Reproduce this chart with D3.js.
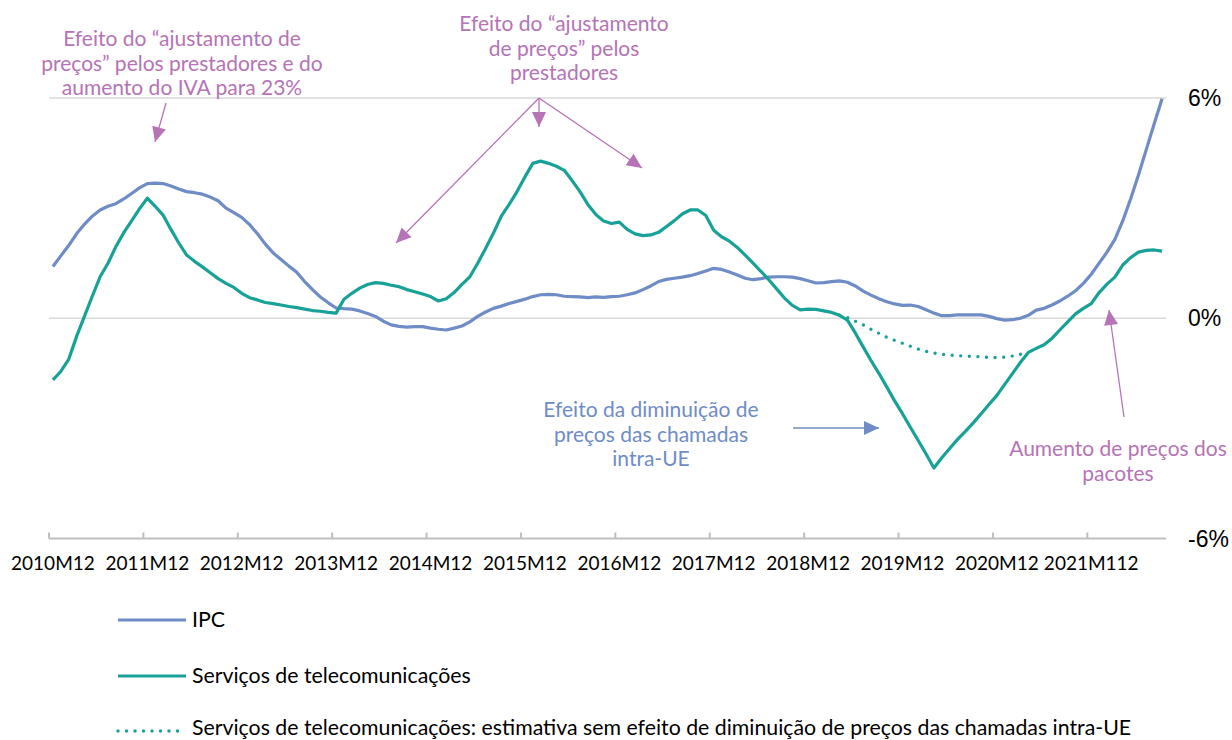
<!DOCTYPE html>
<html><head><meta charset="utf-8">
<script src="https://cdn.jsdelivr.net/npm/d3@7"></script>
<style>html,body{margin:0;padding:0;background:#fff;}svg{display:block;}</style>
</head><body>
<svg id="c" width="1232" height="740"></svg>
<script>
// ---- data ----
const startYear = 2010, startMonth = 12, nMonths = 142;
const months = [];
for (let i = 0; i < nMonths; i++) {
  const m = (startMonth - 1 + i) % 12 + 1;
  const yr = startYear + Math.floor((startMonth - 1 + i) / 12);
  months.push(yr + "M" + m);
}
const tickLabels = ["2010M12","2011M12","2012M12","2013M12","2014M12","2015M12","2016M12","2017M12","2018M12","2019M12","2020M12","2021M112"];
const yTicks = [6, 0, -6];

const ipc = [1.41,1.7,1.98,2.3,2.56,2.78,2.95,3.05,3.12,3.25,3.4,3.55,3.67,3.68,3.67,3.6,3.52,3.45,3.42,3.38,
  3.3,3.2,3.0,2.88,2.75,2.55,2.3,2.02,1.78,1.6,1.42,1.25,1.0,0.78,0.58,0.42,0.28,0.26,0.25,0.2,
  0.13,0.05,-0.08,-0.18,-0.22,-0.24,-0.23,-0.23,-0.27,-0.3,-0.32,-0.27,-0.21,-0.1,0.05,0.17,0.27,0.33,0.4,0.46,
  0.52,0.59,0.64,0.65,0.64,0.6,0.59,0.58,0.56,0.58,0.57,0.59,0.6,0.64,0.69,0.78,0.88,1.0,1.06,1.09,
  1.12,1.16,1.22,1.29,1.36,1.33,1.26,1.18,1.09,1.05,1.08,1.12,1.13,1.13,1.12,1.08,1.02,0.96,0.97,1.0,
  1.02,0.98,0.88,0.74,0.63,0.53,0.45,0.39,0.35,0.36,0.32,0.23,0.14,0.07,0.07,0.09,0.09,0.09,0.09,0.05,
  -0.01,-0.05,-0.04,0.0,0.08,0.22,0.27,0.36,0.47,0.6,0.75,0.95,1.2,1.5,1.8,2.15,2.65,3.25,3.9,4.6,
  5.3,5.98];

const telecom = [-1.68,-1.45,-1.12,-0.5,0.05,0.6,1.13,1.5,1.95,2.33,2.65,2.98,3.27,3.05,2.81,2.42,2.05,1.72,1.55,1.4,
  1.24,1.08,0.95,0.84,0.68,0.56,0.5,0.43,0.4,0.36,0.32,0.29,0.25,0.21,0.19,0.16,0.14,0.52,0.68,0.82,
  0.92,0.97,0.95,0.9,0.86,0.78,0.72,0.66,0.59,0.47,0.53,0.7,0.92,1.13,1.5,1.9,2.32,2.78,3.1,3.45,
  3.85,4.22,4.28,4.22,4.14,4.03,3.75,3.45,3.1,2.83,2.65,2.58,2.62,2.42,2.3,2.25,2.27,2.34,2.5,2.66,
  2.84,2.95,2.95,2.8,2.4,2.22,2.1,1.93,1.72,1.5,1.28,1.05,0.8,0.55,0.35,0.23,0.25,0.24,0.2,0.16,
  0.08,-0.05,-0.4,-0.78,-1.15,-1.5,-1.87,-2.25,-2.6,-2.97,-3.33,-3.7,-4.08,-3.8,-3.55,-3.3,-3.08,-2.85,-2.6,-2.35,
  -2.1,-1.8,-1.5,-1.2,-0.93,-0.82,-0.72,-0.55,-0.32,-0.1,0.12,0.27,0.4,0.7,0.93,1.12,1.45,1.65,1.8,1.85,
  1.86,1.83];

// estimate without intra-EU call price effect (starts at index 100)
const estimateStart = 100;
const estimate = [0.08,0.02,-0.08,-0.18,-0.3,-0.41,-0.52,-0.6,-0.68,-0.76,-0.84,-0.9,-0.95,-0.98,-1.0,-1.02,-1.03,-1.04,-1.05,-1.07,-1.07,-1.06,-1.03,-0.98,-0.93];

const legendLabels = ["IPC","Serviços de telecomunicações","Serviços de telecomunicações: estimativa sem efeito de diminuição de preços das chamadas intra-UE"];

// ---- styles ----
const C_IPC = "#6F8CC6", C_TEL = "#18A196", C_PURPLE = "#B673B6", C_BLUE = "#6F8CC6";
const FONT = "Lato, 'Open Sans', sans-serif";

const svg = d3.select("#c");
const x = d3.scaleBand().domain(months).range([49, 1166]).padding(0);
const y = d3.scaleLinear().domain([-6, 6]).range([538.5, 98]);
const cx = m => x(m) + x.bandwidth() / 2;

// gridlines
svg.append("g").selectAll("line").data([6, 0]).join("line")
  .attr("x1", 49).attr("x2", 1166)
  .attr("y1", d => y(d)).attr("y2", d => y(d))
  .attr("stroke", "#D9D9D9").attr("stroke-width", 1.5);

// x axis line + ticks
svg.append("line").attr("x1", 49).attr("x2", 1166).attr("y1", y(-6)).attr("y2", y(-6))
  .attr("stroke", "#BFBFBF").attr("stroke-width", 2);
const tickIdx = tickLabels.map((d, i) => i * 12);
svg.append("g").selectAll("line").data(tickIdx).join("line")
  .attr("x1", d => x(months[d])).attr("x2", d => x(months[d]))
  .attr("y1", y(-6)).attr("y2", y(-6) - 6)
  .attr("stroke", "#BFBFBF").attr("stroke-width", 2);
svg.append("g").selectAll("text").data(tickIdx).join("text")
  .attr("x", d => cx(months[d])).attr("y", 570)
  .attr("text-anchor", "middle")
  .attr("font-family", FONT).attr("font-size", 19).attr("fill", "#000")
  .text((d, i) => tickLabels[i]);

// y labels (right)
svg.append("g").selectAll("text").data(yTicks).join("text")
  .attr("x", 1188).attr("y", d => y(d) + 8)
  .attr("font-family", "'Liberation Sans', Arial, sans-serif").attr("font-size", 23).attr("fill", "#000")
  .text(d => d + "%");

// lines
const line = d3.line().x(d => cx(d.m)).y(d => y(d.v)).curve(d3.curveLinear);
svg.append("path").datum(ipc.map((v, i) => ({m: months[i], v})))
  .attr("d", line).attr("fill", "none").attr("stroke", C_IPC).attr("stroke-width", 3.2)
  .attr("stroke-linejoin", "round");
svg.append("path").datum(telecom.map((v, i) => ({m: months[i], v})))
  .attr("d", line).attr("fill", "none").attr("stroke", C_TEL).attr("stroke-width", 3.2)
  .attr("stroke-linejoin", "round");
svg.append("path").datum(estimate.map((v, i) => ({m: months[estimateStart + i], v})))
  .attr("d", line).attr("fill", "none").attr("stroke", C_TEL).attr("stroke-width", 3.4)
  .attr("stroke-linecap", "round").attr("stroke-dasharray", "0 8.6");

// arrow markers
const defs = svg.append("defs");
function marker(id, color) {
  defs.append("marker").attr("id", id).attr("markerUnits", "userSpaceOnUse")
    .attr("viewBox", "-1 -8 17 16").attr("refX", 15).attr("refY", 0)
    .attr("markerWidth", 17).attr("markerHeight", 16).attr("orient", "auto")
    .append("path").attr("d", "M0,-7 L15,0 L0,7 Z").attr("fill", color);
}
marker("ap", C_PURPLE); marker("ab", C_BLUE);

function arrow(x1, y1, x2, y2, color, id, w) {
  svg.append("line").attr("x1", x1).attr("y1", y1).attr("x2", x2).attr("y2", y2)
    .attr("stroke", color).attr("stroke-width", w).attr("marker-end", "url(#" + id + ")");
}
arrow(166, 103, 155, 142, C_PURPLE, "ap", 1.3);
arrow(539, 98, 539, 127, C_PURPLE, "ap", 1.3);
arrow(539, 98, 642, 168, C_PURPLE, "ap", 1.3);
arrow(539, 98, 396, 243, C_PURPLE, "ap", 1.3);
arrow(1124, 417, 1109, 310, C_PURPLE, "ap", 1.3);
arrow(793, 428, 879, 428, C_BLUE, "ab", 1.3);

function label(lines, xc, y0, dy, color) {
  const t = svg.append("text").attr("font-family", FONT).attr("font-size", 21)
    .attr("fill", color).attr("text-anchor", "middle");
  lines.forEach((s, i) => t.append("tspan").attr("x", xc).attr("y", y0 + i * dy).text(s));
}
label(["Efeito do “ajustamento de", "preços” pelos prestadores e do", "aumento do IVA para 23%"], 182, 46, 24.5, C_PURPLE);
label(["Efeito do “ajustamento", "de preços” pelos", "prestadores"], 564, 31, 24.5, C_PURPLE);
label(["Efeito da diminuição de", "preços das chamadas", "intra-UE"], 651, 417, 24.5, C_BLUE);
label(["Aumento de preços dos", "pacotes"], 1118, 456, 24.5, C_PURPLE);

// legend
const lg = svg.append("g");
const ly = [620, 676, 731];
const lty = [627, 683, 735];
[0, 1, 2].forEach(i => {
  const l = lg.append("line").attr("x1", 118).attr("x2", 186).attr("y1", ly[i]).attr("y2", ly[i])
    .attr("stroke", i === 0 ? C_IPC : C_TEL).attr("stroke-width", i === 2 ? 3.4 : 3.2);
  if (i === 2) l.attr("stroke-linecap", "round").attr("stroke-dasharray", "0 8.5");
  lg.append("text").attr("x", 192).attr("y", lty[i]).attr("font-family", FONT)
    .attr("font-size", 21.3).attr("fill", "#000").text(legendLabels[i]);
});
</script>
</body></html>
